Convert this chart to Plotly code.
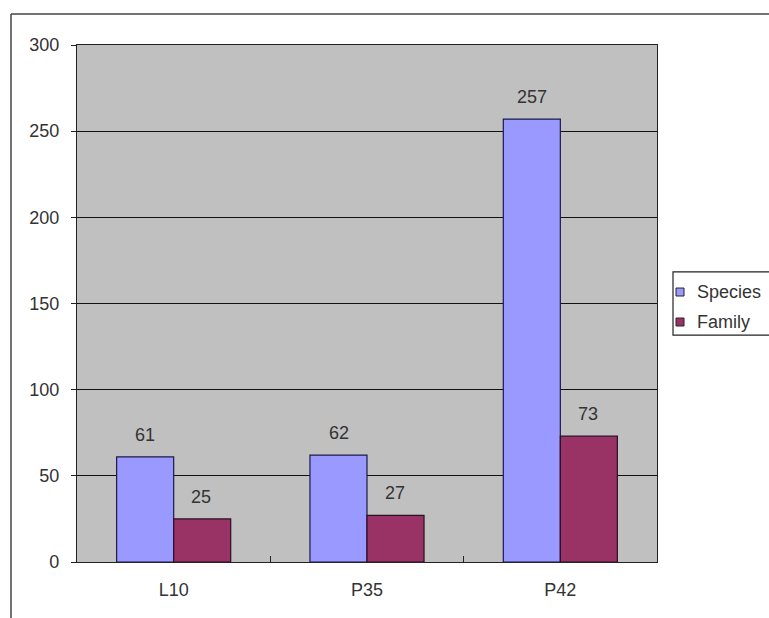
import plotly.graph_objects as go

categories = ["L10", "P35", "P42"]
species = [61, 62, 257]
family = [25, 27, 73]
y_ticks = [0, 50, 100, 150, 200, 250, 300]
series_names = ["Species", "Family"]
series_colors = ["#9999FF", "#993366"]

font = "Liberation Sans, Arial, sans-serif"
fs = 18

fig = go.Figure()
fig.add_trace(go.Bar(name=series_names[0], x=categories, y=species,
                     marker=dict(color=series_colors[0], line=dict(color="#1a1a4a", width=1.2))))
fig.add_trace(go.Bar(name=series_names[1], x=categories, y=family,
                     marker=dict(color=series_colors[1], line=dict(color="#2a1020", width=1.2))))

annotations = []
for cat, s, f in zip(categories, species, family):
    annotations.append(dict(x=cat, y=s, xref="x", yref="y", text=str(s), showarrow=False,
                            xshift=-28.5, yshift=22, font=dict(family=font, size=fs, color="#333")))
    annotations.append(dict(x=cat, y=f, xref="x", yref="y", text=str(f), showarrow=False,
                            xshift=27.5, yshift=22, font=dict(family=font, size=fs, color="#333")))

# custom legend (Excel style, cut at the right edge)
shapes = [
    dict(type="line", xref="paper", yref="paper", x0=-0.1138, x1=1.3, y0=1.06, y1=1.06,
         line=dict(color="#444", width=1.5)),
    dict(type="line", xref="paper", yref="paper", x0=-0.1138, x1=-0.1138, y0=1.06, y1=-0.2,
         line=dict(color="#444", width=1.5)),
    dict(type="rect", xref="paper", yref="paper", x0=1.0276, x1=1.3, y0=0.439, y1=0.561,
         line=dict(color="#222", width=1.2), fillcolor="white"),
]
leg_y = [0.5222, 0.4642]
for name, col, yc in zip(series_names, series_colors, leg_y):
    shapes.append(dict(type="rect", xref="paper", yref="paper", x0=1.0328, x1=1.0466,
                       y0=yc - 0.0077, y1=yc + 0.0077, fillcolor=col,
                       line=dict(color="#222", width=1)))
    annotations.append(dict(x=1.066, y=yc, xref="paper", yref="paper", text=name,
                            showarrow=False, xanchor="left", yanchor="middle",
                            font=dict(family=font, size=fs, color="#333")))

fig.update_layout(
    width=769, height=618,
    margin=dict(l=77, r=112, t=45, b=56),
    paper_bgcolor="white",
    plot_bgcolor="#C0C0C0",
    barmode="group",
    bargap=0.41,
    bargroupgap=0,
    font=dict(family=font, size=fs, color="#333"),
    annotations=annotations,
    shapes=shapes,
    showlegend=False,
)
fig.update_xaxes(showline=True, linecolor="#222", linewidth=1.2, mirror=True,
                 ticks="inside", tickson="boundaries", ticklen=6, tickcolor="#222",
                 ticklabelstandoff=11, showgrid=False,
                 tickfont=dict(family=font, size=fs, color="#333"))
fig.update_yaxes(range=[0, 300], tickvals=y_ticks, showline=True, linecolor="#222", linewidth=1.2,
                 mirror=True, ticks="outside", ticklen=5, tickcolor="#222",
                 showgrid=True, gridcolor="#111", gridwidth=1, zeroline=False,
                 ticklabelstandoff=8,
                 tickfont=dict(family=font, size=fs, color="#333"))

fig.write_html("out.html", config={"displayModeBar": False},
               post_script="document.body.style.margin='0';document.body.style.overflow='hidden';")
